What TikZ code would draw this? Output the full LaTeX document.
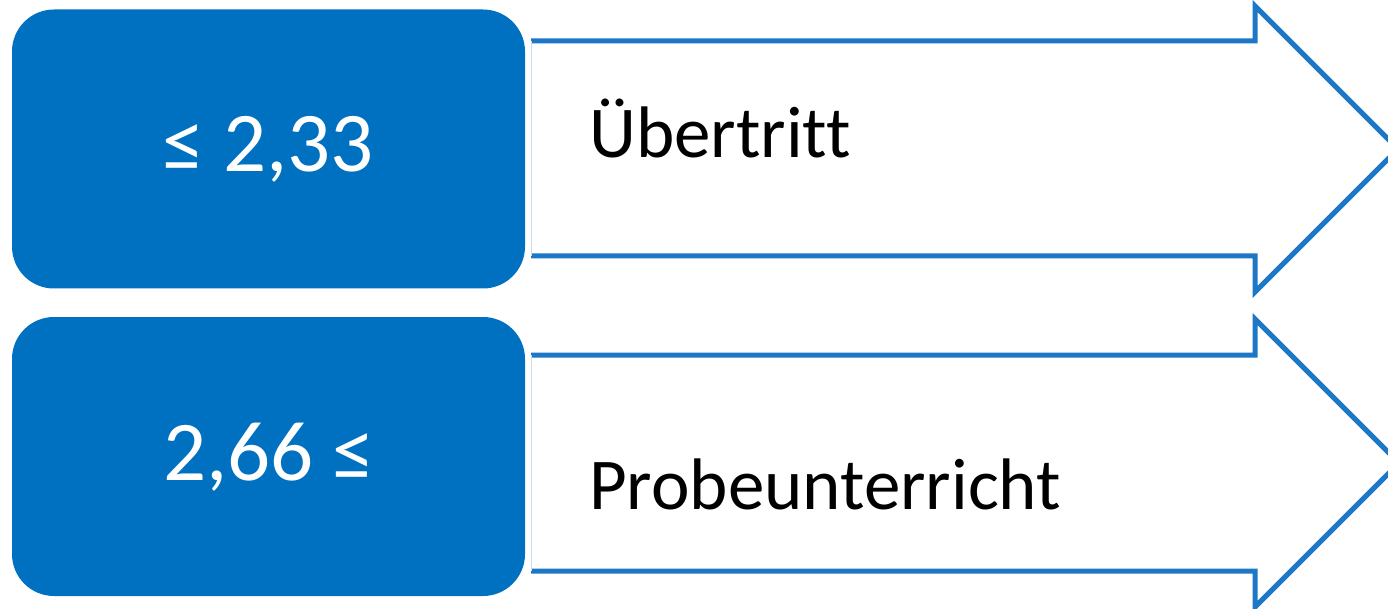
\documentclass[tikz,border=0pt]{standalone}
\usepackage{fontspec}
\setmainfont{Carlito}[Ligatures={NoCommon}]
\definecolor{boxblue}{HTML}{0070C0}
\definecolor{arrowblue}{HTML}{1C78C6}
\begin{document}
\begin{tikzpicture}[x=1pt,y=-1pt]
\tikzstyle{every node}+=[inner sep=0pt]
\tikzstyle{gradebox}=[fill=boxblue, rounded corners=42pt, minimum width=513pt, minimum height=279pt]
\tikzstyle{gradetext}=[text=white, font=\fontsize{85}{100}\selectfont, anchor=base]
\tikzstyle{resulttext}=[text=black, font=\fontsize{73}{84}\selectfont, anchor=base west]
\tikzstyle{arrowline}=[draw=arrowblue, line width=5pt, line join=miter]
\useasboundingbox (0,0) rectangle (1388,609);

\fill [white] (531,41) -- (1255,41) -- (1255,6) -- (1398,149) -- (1255,292) -- (1255,256) -- (531,256) -- cycle;
\draw [arrowline] (531,41) -- (1255,41) -- (1255,6) -- (1398,149) -- (1255,292) -- (1255,256) -- (531,256);
\draw [arrowblue!25, line width=1pt] (531,41) -- (531,256);
\node [gradebox] (upper) at (268.5,149) {};
\node [gradetext] (upperval) at (268,172) {≤ 2,33};
\node [resulttext] (pass) at (589,158) {Übertritt};

\fill [white] (531,355) -- (1255,355) -- (1255,319) -- (1399,463) -- (1255,607) -- (1255,571) -- (531,571) -- cycle;
\draw [arrowline] (531,355) -- (1255,355) -- (1255,319) -- (1399,463) -- (1255,607) -- (1255,571) -- (531,571);
\draw [arrowblue!25, line width=1pt] (531,355) -- (531,571);
\node [gradebox] (lower) at (268.5,456.5) {};
\node [gradetext] (lowerval) at (269,480) {2,66 ≤};
\node [resulttext] (trial) at (589,509) {Probeunterricht};
\end{tikzpicture}
\end{document}
